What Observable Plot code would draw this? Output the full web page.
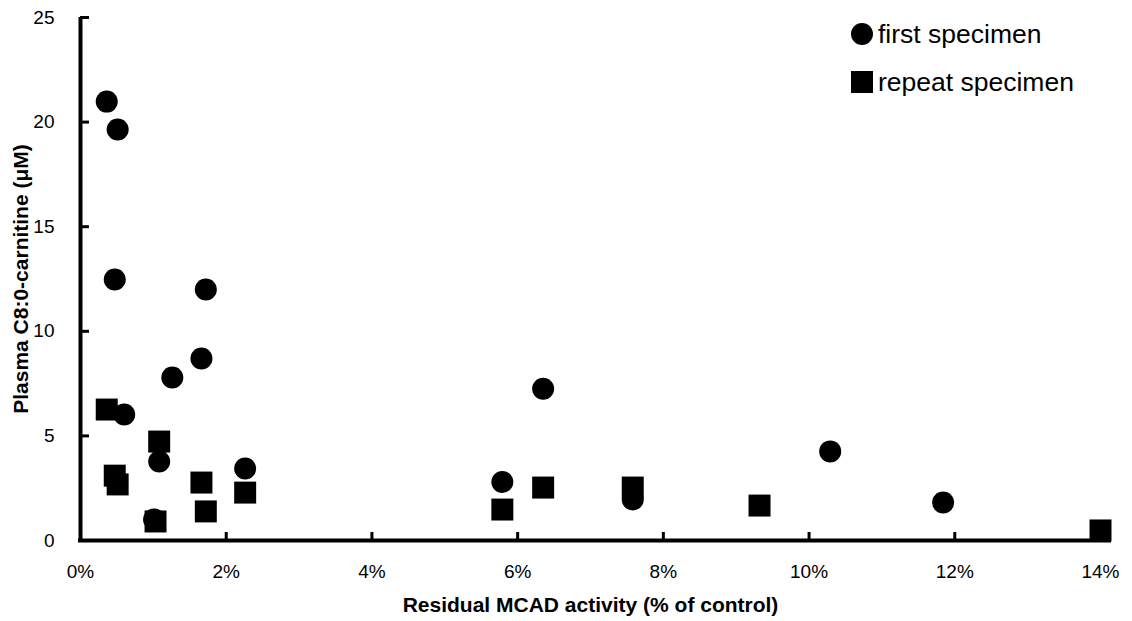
<!DOCTYPE html>
<html><head><meta charset="utf-8">
<script src="https://cdn.jsdelivr.net/npm/d3@7"></script>
<script src="https://cdn.jsdelivr.net/npm/@observablehq/plot@0.6"></script>
<style>
body{margin:0;background:#fff;font-family:"Liberation Sans",Arial,Helvetica,sans-serif}
#wrap{position:relative;width:1132px;height:621px}
.leg{position:absolute;left:851px;height:26px;font-size:26.5px;display:flex;align-items:center;color:#000;white-space:nowrap}
.sym{display:inline-block;width:22px;height:22px;background:#000;margin-right:5px;flex:none}
.circ{border-radius:50%}
</style></head><body><div id="wrap"></div>
<script>
// Residual MCAD activity (% of control) and plasma C8:0-carnitine (µM)
const firstX = [0.36, 0.51, 0.47, 0.60, 1.08, 1.01, 1.26, 1.66, 1.72, 2.26, 5.79, 6.35, 7.58, 10.29, 11.84];
const firstY = [20.98, 19.65, 12.48, 6.02, 3.78, 1.0, 7.79, 8.70, 12.0, 3.44, 2.80, 7.25, 1.96, 4.26, 1.82];
const repeatX = [0.36, 0.47, 0.51, 1.08, 1.03, 1.66, 1.72, 2.26, 5.79, 6.35, 7.58, 9.32, 14.0];
const repeatY = [6.26, 3.10, 2.68, 4.73, 0.91, 2.77, 1.39, 2.29, 1.48, 2.53, 2.53, 1.67, 0.48];
const xTicks = [0, 2, 4, 6, 8, 10, 12, 14];
const yTicks = [0, 5, 10, 15, 20, 25];
const seriesNames = ["first specimen", "repeat specimen"];
const xTitle = "Residual MCAD activity (% of control)";
const yTitle = "Plasma C8:0-carnitine (\u03bcM)";

const first = firstX.map((x, i) => ({x, y: firstY[i]}));
const repeat = repeatX.map((x, i) => ({x, y: repeatY[i]}));

const W = 1132, H = 621, mL = 80, mR = 32, mT = 17, mB = 81;
const plotW = W - mL - mR, plotH = H - mT - mB;
const font = '"Liberation Sans", Arial, Helvetica, sans-serif';

const chart = Plot.plot({
  width: W, height: H,
  marginLeft: mL, marginRight: mR, marginTop: mT, marginBottom: mB,
  x: {domain: [0, 14]},
  y: {domain: [0, 25]},
  style: {fontFamily: font, fontSize: "19px", color: "#000", background: "#fff"},
  marks: [
    Plot.axisX(xTicks, {tickSize: 0, tickPadding: 24, tickFormat: d => d + "%", fontSize: 19, label: null}),
    Plot.axisY(yTicks, {tickSize: 0, tickPadding: 26, fontSize: 19, label: null}),
    Plot.tickX(xTicks.slice(1), {x: d => d, insetTop: plotH - 8, stroke: "#000", strokeWidth: 3}),
    Plot.tickY(yTicks.slice(1), {y: d => d, insetRight: plotW - 9, stroke: "#000", strokeWidth: 3}),
    Plot.ruleX([0], {stroke: "#000", strokeWidth: 4, insetBottom: -2}),
    Plot.ruleY([0], {stroke: "#000", strokeWidth: 4, insetLeft: -2, insetRight: -11}),
    Plot.dot(first, {x: "x", y: "y", symbol: "circle", r: 11, fill: "#000", stroke: null}),
    Plot.dot(repeat, {x: "x", y: "y", symbol: "square", r: 12.4, fill: "#000", stroke: null}),
    Plot.text([xTitle], {frameAnchor: "bottom", dy: 65, textAnchor: "middle", lineAnchor: "middle", fontWeight: "bold", fontSize: 21, fill: "#000"}),
    Plot.text([yTitle], {frameAnchor: "left", dx: -59, textAnchor: "middle", lineAnchor: "middle", rotate: -90, fontWeight: "bold", fontSize: 21, fill: "#000"})
  ]
});
const wrap = document.getElementById("wrap");
wrap.appendChild(chart);

const legTops = [21, 69];
seriesNames.forEach((name, i) => {
  const d = document.createElement("div");
  d.className = "leg";
  d.style.top = legTops[i] + "px";
  const s = document.createElement("span");
  s.className = "sym" + (i === 0 ? " circ" : "");
  d.appendChild(s);
  d.appendChild(document.createTextNode(name));
  wrap.appendChild(d);
});
</script>
</body></html>
